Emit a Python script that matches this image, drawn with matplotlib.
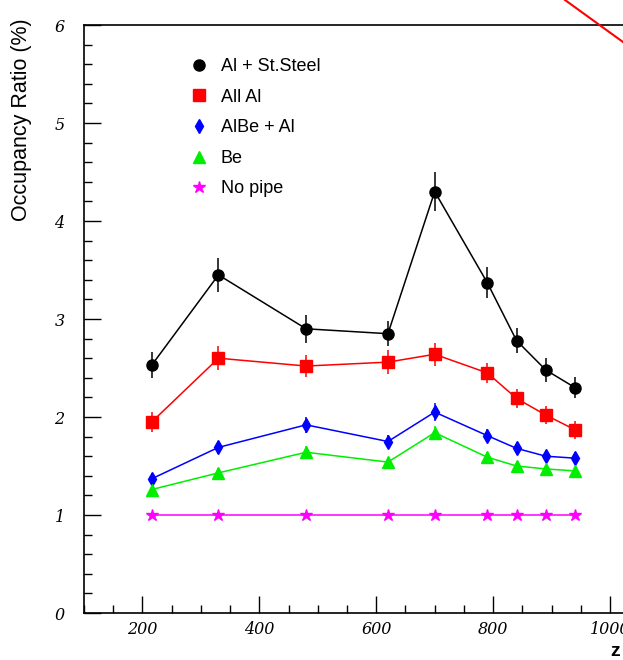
import matplotlib
matplotlib.use("Agg")
import matplotlib.pyplot as plt
from matplotlib.lines import Line2D
from matplotlib.ticker import MultipleLocator

z = [216, 330, 480, 620, 700, 790, 840, 890, 940]

al_steel = [2.53, 3.45, 2.90, 2.85, 4.30, 3.37, 2.78, 2.48, 2.30]
al_steel_err = [0.13, 0.17, 0.14, 0.13, 0.20, 0.16, 0.13, 0.12, 0.11]

all_al = [1.95, 2.60, 2.52, 2.56, 2.64, 2.45, 2.19, 2.02, 1.87]
all_al_err = [0.10, 0.12, 0.11, 0.12, 0.12, 0.10, 0.10, 0.09, 0.09]

albe_al = [1.37, 1.69, 1.92, 1.75, 2.05, 1.81, 1.68, 1.60, 1.58]
albe_al_err = [0.06, 0.07, 0.08, 0.07, 0.09, 0.07, 0.07, 0.06, 0.06]

be = [1.26, 1.43, 1.64, 1.54, 1.84, 1.59, 1.50, 1.47, 1.45]
be_err = [0.04, 0.05, 0.06, 0.05, 0.07, 0.05, 0.05, 0.04, 0.04]

no_pipe = [1.0, 1.0, 1.0, 1.0, 1.0, 1.0, 1.0, 1.0, 1.0]
no_pipe_err = [0.02] * 9

labels = ["Al + St.Steel", "All Al", "AlBe + Al", "Be", "No pipe"]

plt.rcParams['font.family'] = ['Liberation Sans', 'DejaVu Sans']

fig = plt.figure(figsize=(6.23, 6.6), dpi=100)
ax = fig.add_axes([84/623, 47/660, 584.5/623, 588/660])

series = [
    (al_steel, al_steel_err, 'black', 'o', 8),
    (all_al, all_al_err, 'red', 's', 8),
    (albe_al, albe_al_err, 'blue', 'd', 7),
    (be, be_err, '#00ee00', '^', 8),
    (no_pipe, no_pipe_err, 'magenta', '*', 9),
]
handles = []
for (vals, errs, col, mk, ms), lab in zip(series, labels):
    ax.errorbar(z, vals, yerr=errs, color=col, marker=mk, markersize=ms,
                linewidth=1.1, elinewidth=1.1, capsize=0, mec=col, mfc=col)
    handles.append(Line2D([], [], color=col, marker=mk, markersize=ms,
                          linestyle='none', label=lab))

ax.set_xlim(100, 1100)
ax.set_ylim(0, 6)
ax.xaxis.set_major_locator(MultipleLocator(200))
ax.xaxis.set_minor_locator(MultipleLocator(50))
ax.yaxis.set_major_locator(MultipleLocator(1))
ax.yaxis.set_minor_locator(MultipleLocator(0.2))
ax.tick_params(which='both', direction='in', width=1.0, colors='black',
               labelsize=11.5)
ax.tick_params(which='major', length=12)
ax.tick_params(which='minor', length=6)
ax.tick_params(axis='y', pad=14)
ax.tick_params(axis='x', pad=6)
for lab in ax.get_xticklabels() + ax.get_yticklabels():
    lab.set_fontstyle('italic')
    lab.set_family(['DejaVu Serif'])
for s in ['left', 'bottom', 'top']:
    ax.spines[s].set_linewidth(1.2)
ax.spines['right'].set_visible(False)

fig.text(22/623, 1 - 120/660, "Occupancy Ratio (%)", rotation=90,
         ha='center', va='center', fontsize=15.5)
fig.text(615/623, 1 - 651/660, "z", ha='center', va='center',
         fontsize=14, fontweight='bold')

ax.legend(handles=handles, loc='upper left', bbox_to_anchor=(183/623, 1 - 51/660),
          bbox_transform=fig.transFigure, frameon=False, fontsize=13,
          handlelength=1.0, handletextpad=0.7, labelspacing=0.75,
          borderaxespad=0)

fig.add_artist(Line2D([565/623, 1.0], [1.0, 1 - 42/660], color='red',
                      linewidth=1.5, transform=fig.transFigure))

fig.savefig("out.png", dpi=100)
